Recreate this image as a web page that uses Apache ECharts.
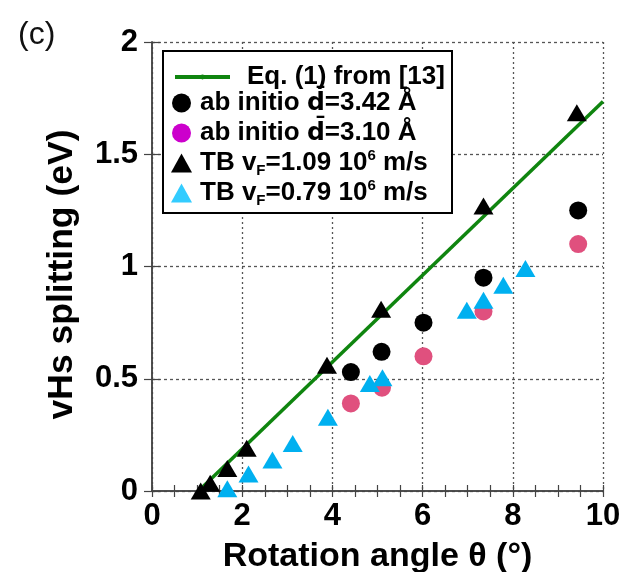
<!DOCTYPE html>
<html><head><meta charset="utf-8">
<script src="https://cdn.jsdelivr.net/npm/echarts@6/dist/echarts.min.js"></script>
<style>html,body{margin:0;padding:0;background:#fff}#c{width:626px;height:572px}</style>
</head><body><div id="c"></div>
<script>
// ---- data ----
const xTickLabels = [0, 2, 4, 6, 8, 10];
const yTickLabels = [0, 0.5, 1, 1.5, 2];
const eqX = [1.03, 10];
const eqY = [0, 1.735];
const ab342X = [4.41, 5.09, 6.02, 7.35, 9.45];
const ab342Y = [0.53, 0.62, 0.75, 0.95, 1.25];
const ab310X = [4.41, 5.10, 6.02, 7.35, 9.45];
const ab310Y = [0.39, 0.46, 0.60, 0.80, 1.10];
const tb109X = [1.08, 1.29, 1.67, 2.10, 3.88, 5.08, 7.35, 9.42];
const tb109Y = [0.0, 0.035, 0.10, 0.19, 0.56, 0.81, 1.27, 1.685];
const tb079X = [1.67, 2.14, 2.67, 3.12, 3.90, 4.83, 5.11, 6.98, 7.35, 7.79, 8.28];
const tb079Y = [0.01, 0.076, 0.138, 0.212, 0.328, 0.479, 0.504, 0.805, 0.85, 0.917, 0.991];

const NAME_EQ = 'Eq. (1) from [13]';
const NAME_A1 = 'ab initio d\u0304=3.42 \u00C5';
const NAME_A2 = 'ab initio d\u0304=3.10 \u00C5';
const NAME_T1 = 'TB vF=1.09 10^6 m/s';
const NAME_T2 = 'TB vF=0.79 10^6 m/s';

const legendText = {};
legendText[NAME_EQ] = NAME_EQ;
legendText[NAME_A1] = 'ab initio {dbar|d\u0304}=3.42 \u00C5';
legendText[NAME_A2] = 'ab initio {dbar|d\u0304}=3.10 \u00C5';
legendText[NAME_T1] = 'TB v{sub|F}=1.09 10{sup|6} m/s';
legendText[NAME_T2] = 'TB v{sub|F}=0.79 10{sup|6} m/s';

const zip = (xs, ys) => xs.map((x, i) => [x, ys[i]]);
const FONT = '"Liberation Sans", Arial, sans-serif';
const AX = '#444';
const GREEN = '#0f850f';

const chart = echarts.init(document.getElementById('c'), null, {renderer: 'canvas'});
const legendRich = {
  sub: {fontSize: 15, fontWeight: 'bold', fontFamily: FONT, color: '#000', verticalAlign: 'bottom', lineHeight: 30},
  sup: {fontSize: 15, fontWeight: 'bold', fontFamily: FONT, color: '#000', verticalAlign: 'top', lineHeight: 14},
  dbar: {fontSize: 25, fontWeight: 'bold', fontFamily: '"DejaVu Sans"', color: '#000', lineHeight: 30}
};
const option = {
  animation: false,
  backgroundColor: '#fff',
  title: {text: '(c)', left: 13, top: 14, textStyle: {fontFamily: FONT, fontWeight: 'normal', fontSize: 32, color: '#111'}},
  grid: {left: 152, right: 23, top: 42, bottom: 81, containLabel: false, outerBoundsMode: 'none'},
  graphic: [{type: 'rect', z: 3, shape: {x: 163, y: 51, width: 289, height: 162}, style: {fill: '#fff', stroke: '#000', lineWidth: 2}}],
  legend: [
    {data: [NAME_EQ], left: 168, top: 59, orient: 'vertical', itemWidth: 55, itemHeight: 6, z: 10,
     lineStyle: {width: 4, color: GREEN},
     formatter: n => legendText[n],
     textStyle: {fontFamily: FONT, fontWeight: 'bold', fontSize: 26, color: '#000', lineHeight: 26, padding: [0, 0, 0, 12]}},
    {data: [
       {name: NAME_A1, itemStyle: {color: '#000'}},
       {name: NAME_A2, itemStyle: {color: '#cc00cc'}},
       {name: NAME_T1, itemStyle: {color: '#000'}},
       {name: NAME_T2, itemStyle: {color: '#33ccff'}}
     ], left: 166, top: 83, orient: 'vertical', itemWidth: 21, itemHeight: 19, itemGap: 0, z: 10,
     formatter: n => legendText[n],
     textStyle: {fontFamily: FONT, fontWeight: 'bold', fontSize: 26, color: '#000', lineHeight: 30, padding: [0, 0, 0, 3], rich: legendRich}}
  ],
  xAxis: [
    {type: 'value', min: 0, max: 10, interval: 2, position: 'bottom',
     name: 'Rotation angle \u03B8 (\u00B0)', nameLocation: 'middle', nameGap: 49,
     nameTextStyle: {fontFamily: FONT, fontWeight: 'bold', fontSize: 34, color: '#000'},
     axisLine: {show: true, lineStyle: {color: AX, width: 1.5}},
     axisTick: {show: true, inside: true, length: 6, lineStyle: {color: AX, width: 1.2}},
     minorTick: {show: true, splitNumber: 4, length: 6, lineStyle: {color: AX, width: 1.2}},
     axisLabel: {margin: 10, fontFamily: FONT, fontWeight: 'bold', fontSize: 31, color: '#000',
       formatter: v => xTickLabels.indexOf(v) >= 0 ? String(v) : ''},
     splitLine: {show: true, lineStyle: {color: '#555', type: [2, 3], width: 1.3}}},
    {type: 'value', min: 0, max: 10, interval: 2, position: 'top',
     axisLine: {show: true, lineStyle: {color: AX, width: 1.5}},
     axisTick: {show: true, inside: true, length: 6, lineStyle: {color: AX, width: 1.2}},
     minorTick: {show: true, splitNumber: 4, length: 6, lineStyle: {color: AX, width: 1.2}},
     axisLabel: {show: false}, splitLine: {show: false}}
  ],
  yAxis: [
    {type: 'value', min: 0, max: 2, interval: 0.5, position: 'left',
     name: 'vHs splitting (eV)', nameLocation: 'middle', nameGap: 72,
     nameTextStyle: {fontFamily: FONT, fontWeight: 'bold', fontSize: 35.5, color: '#000', padding: [0, 16, 0, 0]},
     axisLine: {show: true, lineStyle: {color: AX, width: 1.5}},
     axisTick: {show: true, inside: true, length: 8, lineStyle: {color: AX, width: 1.2}},
     axisLabel: {margin: 14, fontFamily: FONT, fontWeight: 'bold', fontSize: 31, color: '#000',
       formatter: v => yTickLabels.indexOf(v) >= 0 ? String(v) : ''},
     splitLine: {show: true, lineStyle: {color: '#555', type: [3, 3], width: 1.3}}},
    {type: 'value', min: 0, max: 2, interval: 0.5, position: 'right',
     axisLine: {show: true, lineStyle: {color: AX, width: 1.5}},
     axisTick: {show: true, inside: true, length: 8, lineStyle: {color: AX, width: 1.2}},
     axisLabel: {show: false}, splitLine: {show: false}}
  ],
  series: [
    {name: NAME_EQ, type: 'line', data: zip(eqX, eqY), symbol: 'none', z: 2,
     lineStyle: {color: GREEN, width: 3.5}, itemStyle: {color: GREEN}},
    {name: NAME_A1, type: 'scatter', data: zip(ab342X, ab342Y), symbol: 'circle', symbolSize: 18, z: 3,
     itemStyle: {color: '#000', opacity: 1}},
    {name: NAME_A2, type: 'scatter', data: zip(ab310X, ab310Y), symbol: 'circle', symbolSize: 18, z: 3,
     itemStyle: {color: '#e0507e', opacity: 1}},
    {name: NAME_T1, type: 'scatter', data: zip(tb109X, tb109Y), symbol: 'triangle', symbolSize: [20, 17], z: 4,
     itemStyle: {color: '#000', opacity: 1}},
    {name: NAME_T2, type: 'scatter', data: zip(tb079X, tb079Y), symbol: 'triangle', symbolSize: [20, 17], z: 4,
     itemStyle: {color: '#00b0f0', opacity: 1}}
  ]
};
chart.setOption(option);
</script></body></html>
